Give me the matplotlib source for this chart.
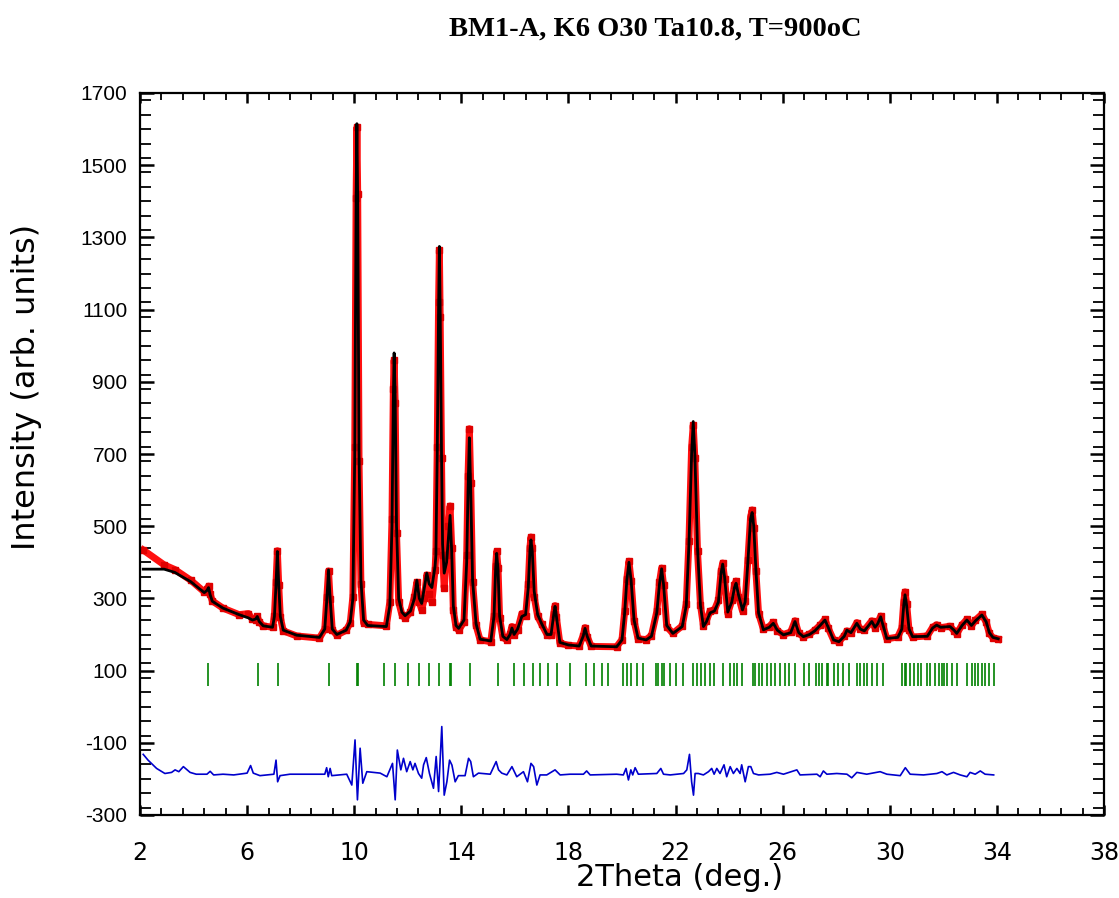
import matplotlib
matplotlib.use("Agg")
import matplotlib.pyplot as plt
import numpy as np
from matplotlib.ticker import MultipleLocator, FixedLocator

plt.rcParams['font.family'] = ['Liberation Sans', 'DejaVu Sans']
plt.rcParams['axes.unicode_minus'] = False

# 2theta grid of the profile (deg.)
two_theta = [2.12, 2.9, 3.3, 3.9, 4.4, 4.5, 4.56, 4.62, 4.7, 5.1,
             5.7, 6.05, 6.2, 6.32, 6.38, 6.45, 6.6, 6.95, 7.02, 7.08,
             7.13, 7.18, 7.24, 7.35, 7.85, 8.7, 8.9, 8.98, 9.04, 9.1,
             9.18, 9.35, 9.7, 9.85, 9.95, 10.02, 10.07, 10.10, 10.13, 10.18,
             10.25, 10.35, 10.5, 11.2, 11.33, 11.41, 11.46, 11.49, 11.53, 11.58,
             11.66, 11.78, 11.9, 12.1, 12.25, 12.34, 12.43, 12.52, 12.62, 12.71,
             12.8, 12.9, 13.02, 13.05, 13.1, 13.15, 13.18, 13.21, 13.26, 13.3,
             13.36, 13.45, 13.52, 13.58, 13.64, 13.7, 13.8, 13.9, 14.1, 14.2,
             14.25, 14.3, 14.35, 14.42, 14.55, 14.7, 15.1, 15.22, 15.28, 15.32,
             15.37, 15.43, 15.55, 15.7, 15.82, 15.89, 15.97, 16.1, 16.26, 16.4,
             16.5, 16.56, 16.6, 16.65, 16.72, 16.85, 17.0, 17.2, 17.35, 17.45,
             17.5, 17.55, 17.68, 18.0, 18.4, 18.55, 18.62, 18.7, 18.85, 19.8,
             20.0, 20.1, 20.18, 20.26, 20.34, 20.45, 20.6, 20.9, 21.1, 21.3,
             21.4, 21.48, 21.55, 21.67, 21.9, 22.25, 22.4, 22.5, 22.6, 22.66,
             22.72, 22.82, 22.93, 23.04, 23.15, 23.29, 23.45, 23.6, 23.7, 23.76,
             23.83, 23.95, 24.1, 24.2, 24.26, 24.35, 24.5, 24.6, 24.7, 24.8,
             24.86, 24.92, 25.0, 25.1, 25.28, 25.5, 25.65, 25.8, 26.03, 26.3,
             26.46, 26.6, 26.77, 27.0, 27.2, 27.4, 27.58, 27.7, 27.9, 28.1,
             28.3, 28.4, 28.55, 28.77, 28.9, 29.05, 29.33, 29.45, 29.55, 29.66,
             29.75, 29.89, 30.3, 30.45, 30.52, 30.57, 30.63, 30.72, 30.85, 31.4,
             31.6, 31.75, 31.9, 32.25, 32.4, 32.5, 32.7, 32.88, 33.05, 33.2,
             33.44, 33.6, 33.72, 33.85, 34.05]

y_calc = [381, 381, 372, 346, 316, 322, 330, 310, 292, 273,
          255, 246, 240, 243, 250, 236, 224, 220, 250, 340,
          430, 340, 250, 212, 198, 192, 215, 300, 379, 300,
          215, 200, 212, 235, 300, 700, 1400, 1615, 1400, 700,
          350, 240, 225, 222, 280, 500, 850, 980, 850, 500,
          300, 262, 252, 265, 300, 350, 300, 286, 330, 370,
          340, 330, 390, 420, 700, 1100, 1275, 1100, 700, 450,
          370, 400, 470, 530, 430, 280, 225, 217, 240, 400,
          600, 745, 600, 350, 230, 187, 182, 250, 380, 425,
          380, 250, 195, 186, 200, 218, 200, 215, 250, 255,
          330, 430, 462, 430, 320, 255, 230, 200, 200, 255,
          278, 250, 178, 171, 168, 195, 217, 195, 168, 166,
          185, 260, 350, 400, 350, 240, 190, 185, 195, 260,
          340, 382, 340, 225, 203, 222, 280, 450, 700, 790,
          700, 440, 280, 222, 235, 260, 265, 290, 370, 395,
          360, 262, 290, 330, 342, 310, 268, 290, 400, 520,
          538, 500, 380, 260, 213, 220, 231, 212, 199, 205,
          236, 205, 194, 200, 210, 225, 240, 220, 185, 180,
          195, 212, 205, 231, 215, 210, 236, 220, 230, 249,
          225, 189, 192, 215, 280, 310, 280, 215, 194, 195,
          218, 226, 220, 222, 212, 203, 225, 240, 225, 238,
          254, 235, 205, 192, 188]

y_obs = [434, 393, 380, 350, 318, 326, 334, 312, 293, 273,
         255, 258, 242, 241, 250, 235, 224, 220, 252, 345,
         432, 338, 248, 210, 196, 190, 215, 305, 376, 298,
         213, 198, 212, 232, 305, 720, 1410, 1605, 1420, 680,
         340, 232, 228, 224, 290, 520, 880, 960, 840, 480,
         290, 255, 245, 262, 305, 345, 290, 268, 300, 365,
         312, 290, 380, 430, 720, 1120, 1265, 1080, 690, 420,
         330, 420, 500, 556, 440, 268, 220, 212, 235, 420,
         640, 770, 620, 345, 225, 185, 180, 252, 390, 430,
         385, 245, 192, 185, 202, 222, 198, 212, 258, 250,
         340, 440, 470, 440, 305, 250, 228, 200, 200, 258,
         280, 248, 176, 170, 168, 197, 219, 194, 167, 166,
         186, 265, 355, 403, 348, 238, 188, 186, 197, 264,
         345, 384, 338, 222, 203, 224, 285, 460, 720, 780,
         690, 430, 282, 224, 238, 265, 268, 295, 375, 398,
         355, 258, 295, 336, 348, 305, 265, 292, 405, 525,
         545, 495, 375, 258, 215, 222, 234, 210, 200, 207,
         238, 203, 194, 201, 212, 226, 242, 218, 185, 180,
         197, 210, 203, 233, 214, 212, 238, 218, 232, 251,
         223, 188, 193, 218, 290, 318, 285, 212, 193, 196,
         220, 227, 219, 223, 210, 202, 227, 242, 224, 240,
         256, 234, 203, 191, 187]

# Bragg reflection positions
bragg_pos = [4.55, 6.40, 7.14, 9.07, 10.10, 10.14, 11.13, 11.53, 12.0, 12.41,
             12.78, 13.17, 13.57, 13.60, 14.33, 15.36, 15.95, 16.33, 16.66, 16.94,
             17.25, 17.59, 18.06, 18.66, 18.96, 19.24, 19.49, 20.03, 20.18, 20.34,
             20.55, 20.80, 21.27, 21.36, 21.48, 21.58, 21.80, 22.02, 22.27, 22.67,
             22.79, 22.95, 23.10, 23.27, 23.44, 23.76, 24.04, 24.20, 24.29, 24.47,
             24.88, 24.95, 25.10, 25.22, 25.41, 25.57, 25.72, 25.91, 26.07, 26.22,
             26.47, 26.78, 27.00, 27.25, 27.34, 27.46, 27.65, 27.71, 27.90, 28.08,
             28.27, 28.46, 28.77, 28.89, 29.02, 29.14, 29.33, 29.52, 29.73, 30.45,
             30.55, 30.61, 30.76, 30.89, 31.07, 31.17, 31.39, 31.51, 31.70, 31.82,
             31.95, 32.01, 32.13, 32.32, 32.51, 32.88, 33.07, 33.19, 33.31, 33.44,
             33.56, 33.69, 33.88]

# difference curve (Yobs - Ycalc, shifted)
diff_x = [2.12, 2.3, 2.62, 2.93, 3.18, 3.31, 3.45, 3.62, 3.87, 4.1,
          4.5, 4.62, 4.75, 5.1, 5.5, 6.0, 6.13, 6.23, 6.48, 7.0,
          7.08, 7.14, 7.23, 7.6, 8.9, 8.97, 9.03, 9.1, 9.16, 9.72,
          9.91, 10.03, 10.12, 10.22, 10.32, 10.47, 10.97, 11.22, 11.43, 11.53,
          11.61, 11.74, 11.84, 11.96, 12.09, 12.19, 12.27, 12.4, 12.52, 12.59,
          12.69, 12.81, 12.96, 13.06, 13.15, 13.27, 13.36, 13.46, 13.56, 13.65,
          13.77, 13.89, 14.14, 14.27, 14.35, 14.45, 14.64, 15.08, 15.3, 15.39,
          15.51, 15.7, 15.89, 16.07, 16.32, 16.47, 16.6, 16.7, 16.82, 16.94,
          17.19, 17.5, 17.69, 18.06, 18.56, 18.68, 18.81, 19.8, 20.05, 20.15,
          20.24, 20.33, 20.4, 20.49, 20.61, 21.3, 21.45, 21.55, 21.8, 22.3,
          22.42, 22.52, 22.6, 22.67, 22.73, 22.85, 23.04, 23.23, 23.35, 23.44,
          23.54, 23.66, 23.81, 23.91, 24.04, 24.16, 24.29, 24.41, 24.47, 24.6,
          24.72, 24.81, 24.91, 25.1, 25.53, 25.78, 26.03, 26.53, 26.65, 27.28,
          27.4, 27.52, 27.65, 28.02, 28.4, 28.58, 28.77, 29.14, 29.64, 29.89,
          30.39, 30.58, 30.76, 31.26, 31.76, 31.95, 32.13, 32.38, 32.63, 32.88,
          33.0, 33.19, 33.38, 33.56, 33.88]
diff_y = [-132, -148, -171, -185, -182, -175, -180, -166, -182, -187,
          -187, -179, -189, -187, -189, -184, -163, -184, -191, -187,
          -148, -208, -191, -187, -187, -169, -194, -171, -191, -187,
          -217, -92, -258, -115, -212, -180, -184, -194, -157, -258,
          -120, -175, -143, -180, -152, -175, -157, -185, -198, -161,
          -141, -185, -226, -138, -235, -55, -245, -208, -148, -162,
          -208, -191, -191, -143, -152, -194, -184, -187, -152, -175,
          -184, -189, -166, -194, -180, -208, -157, -166, -217, -189,
          -189, -175, -189, -187, -187, -178, -189, -187, -189, -171,
          -203, -175, -189, -169, -187, -185, -171, -187, -189, -185,
          -175, -132, -208, -245, -185, -185, -189, -180, -171, -187,
          -171, -185, -161, -194, -166, -185, -171, -185, -161, -208,
          -166, -166, -185, -189, -187, -182, -187, -175, -189, -187,
          -194, -178, -187, -185, -187, -197, -182, -187, -180, -187,
          -191, -169, -187, -189, -185, -180, -189, -182, -189, -194,
          -182, -187, -178, -187, -189]

x_ticks = [2, 6, 10, 14, 18, 22, 26, 30, 34, 38]
y_ticks = [-300, -100, 100, 300, 500, 700, 900, 1100, 1300, 1500, 1700]

fig = plt.figure(figsize=(11.19, 8.98), dpi=100)
ax = fig.add_axes([140/1119, 1-815/898, (1104-140)/1119, (815-93)/898])

# observed: dense red points -> thick band + square markers
ax.plot(two_theta, y_obs, color='#ff1010', lw=5, solid_joinstyle='round', zorder=2)
ax.plot(two_theta, y_obs, 's', color='#e00000', ms=4.5, zorder=2)
ax.plot(two_theta, y_calc, color='black', lw=2.0, zorder=3)
ax.vlines(bragg_pos, 58, 122, color='#008000', lw=1.2, zorder=2)
ax.plot(diff_x, diff_y, color='#0000cc', lw=1.2, zorder=2)

ax.set_xlim(2, 38)
ax.set_ylim(-300, 1700)
ax.set_xticks(x_ticks)
ax.xaxis.set_minor_locator(FixedLocator(np.arange(2, 38.01, 0.8)))
ax.set_yticks(y_ticks)
ax.yaxis.set_minor_locator(MultipleLocator(40))

for s in ax.spines.values():
    s.set_linewidth(1.6)
ax.tick_params(axis='both', which='both', direction='in', top=True, right=True)
ax.tick_params(axis='y', which='major', length=10, width=1.8, pad=9, labelsize=15)
ax.tick_params(axis='y', which='minor', length=8, width=1.3)
ax.tick_params(axis='x', which='major', length=7, width=1.8, pad=19)
ax.tick_params(axis='x', which='minor', length=5, width=1.3)
for lab in ax.get_xticklabels():
    lab.set_family('DejaVu Sans')
    lab.set_fontsize(17)

fig.text(27/1119, 1-387/898, 'Intensity (arb. units)', fontsize=23, rotation=90,
         family='DejaVu Sans', ha='center', va='center')
fig.text(680/1119, 1-878/898, '2Theta (deg.)', fontsize=22, family='DejaVu Sans',
         ha='center', va='center')
fig.text(655/1119, 1-29/898, 'BM1-A, K6 O30 Ta10.8, T=900oC', fontsize=20.5,
         fontweight='bold', family=['Liberation Serif', 'DejaVu Serif'],
         ha='center', va='center')

fig.savefig('out.png', dpi=100)
